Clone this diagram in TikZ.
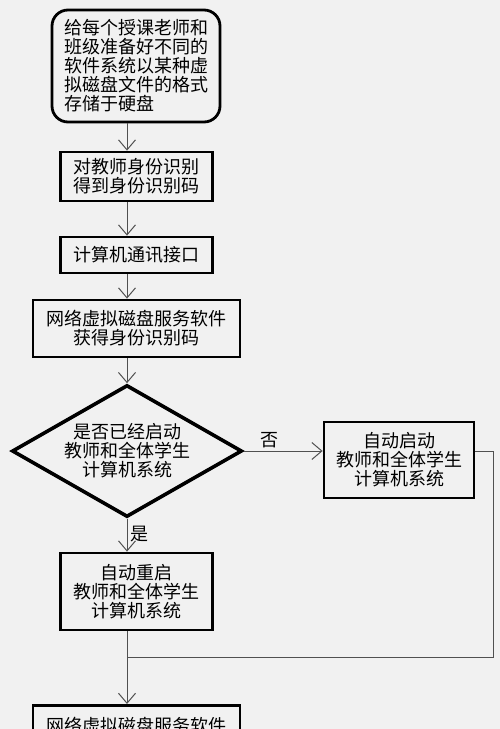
\documentclass[tikz,border=0pt]{standalone}
\usepackage{fontspec}
\newfontfamily\cjk{Noto Sans CJK SC}
\usetikzlibrary{arrows.meta,shapes.geometric}
\definecolor{paper}{HTML}{F1F1F1}
\definecolor{wire}{HTML}{505050}
\tikzset{
  cjktext/.style={font=\cjk\fontsize{18}{19}\selectfont},
  box/.style={cjktext, draw, line width=2.8pt, inner sep=0pt, align=center},
  roundbox/.style={box, rounded corners=16pt, align=left},
  decide/.style={box, line width=3.6pt, shape=diamond, aspect=1.74, minimum width=230pt, minimum height=132pt},
  conn/.style={draw=wire, line width=1pt, -{Straight Barb[length=10pt,width=17pt]}},
  wireline/.style={draw=wire, line width=1pt},
  lbl/.style={cjktext, inner sep=3pt}
}
\begin{document}
\begin{tikzpicture}[x=1pt, y=-1pt]
        % paper
        \fill[paper] (0,0) rectangle (500,729);
        \clip (0,0) rectangle (500,729);
        % boxes
        \node[roundbox, minimum width=168pt, minimum height=112pt] (store) at (136,66)
            {给每个授课老师和\\班级准备好不同的\\软件系统以某种虚\\拟磁盘文件的格式\\存储于硬盘};
        \node[box, minimum width=152pt, minimum height=49pt] (ident) at (136.5,176.5)
            {对教师身份识别\\得到身份识别码};
        \node[box, minimum width=152pt, minimum height=36pt] (port) at (136.5,255)
            {计算机通讯接口};
        \node[box, minimum width=207pt, minimum height=57pt] (getid) at (136.5,328.5)
            {网络虚拟磁盘服务软件\\获得身份识别码};
        \node[decide] (check) at (127,451)
            {是否已经启动\\教师和全体学生\\计算机系统};
        \node[box, minimum width=150pt, minimum height=76pt] (boot) at (399,460)
            {自动启动\\教师和全体学生\\计算机系统};
        \node[box, minimum width=152pt, minimum height=77pt] (reboot) at (136.5,591.5)
            {自动重启\\教师和全体学生\\计算机系统};
        \node[box, minimum width=207pt, anchor=north, inner ysep=3pt, text height=24pt, text depth=20pt] (serve) at (136.5,704)
            {网络虚拟磁盘服务软件};
        % flow
        \draw[conn] (store.south -| check.north) -- (ident.north -| check.north);
        \draw[conn] (ident.south -| check.north) -- (port.north -| check.north);
        \draw[conn] (port.south -| check.north) -- (getid.north -| check.north);
        \draw[conn] (getid.south -| check.north) -- (check.north);
        \draw[conn] (check.east) -- (check.east -| boot.west) node[lbl, pos=0.32, above]{否};
        \draw[conn] (check.south) -- (reboot.north -| check.south) node[lbl, pos=0.45, right]{是};
        \draw[conn] (reboot.south -| check.south) -- (serve.north -| check.south);
        % back line
        \coordinate (rt) at (493,657);
        \coordinate (join) at (127,657);
        \draw[wireline] (boot.east |- check.east) -| (rt) -- (join);
    \end{tikzpicture}
\end{document}
